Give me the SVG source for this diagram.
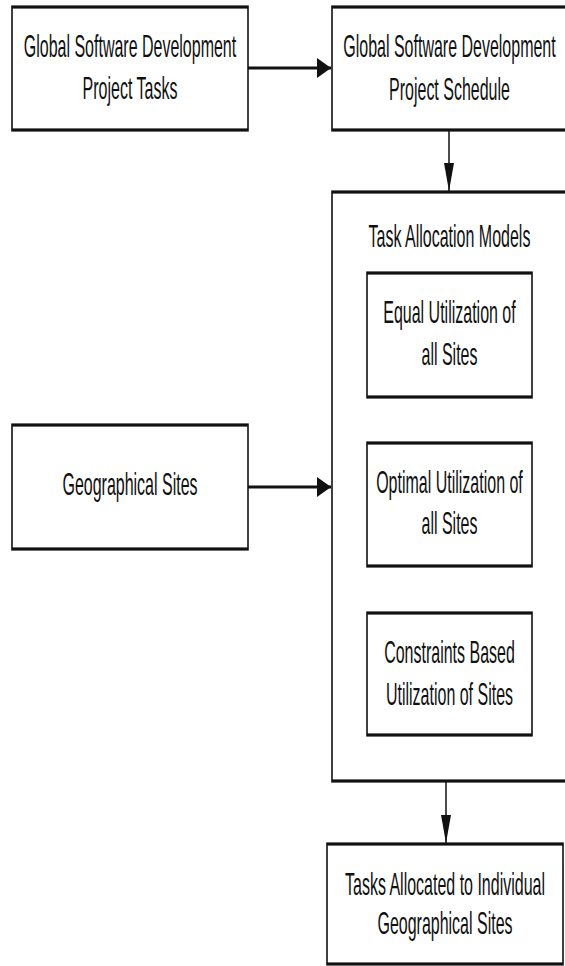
<svg xmlns="http://www.w3.org/2000/svg" width="565" height="966" viewBox="0 0 565 966">
  <style>
    .box { fill: #ffffff; stroke: #111111; stroke-width: 1.6; }
    .lbl { font-family: "Liberation Sans", Arial, sans-serif; font-size: 16px; fill: #111111; text-anchor: middle; }
    .edge { fill: none; stroke: #111111; stroke-width: 1.5; marker-end: url(#arrow); }
  </style>
  <defs>
    <marker id="arrow" markerUnits="userSpaceOnUse" markerWidth="14" markerHeight="10" refX="14" refY="5" orient="auto">
      <path d="M0,0 L14,5 L0,10 Z" fill="#111111"/>
    </marker>
  </defs>
  <rect x="0" y="0" width="565" height="966" fill="#ffffff"/>
  <g transform="scale(1,2)">
    <g id="tasks">
      <rect class="box" x="12" y="3.5" width="236" height="61.5"/>
      <text class="lbl" x="130" y="28.5">Global Software Development</text>
      <text class="lbl" x="130" y="49.5">Project Tasks</text>
    </g>
    <g id="schedule">
      <rect class="box" x="332" y="3.5" width="236" height="61.5"/>
      <text class="lbl" x="449.5" y="28.5">Global Software Development</text>
      <text class="lbl" x="449.5" y="50">Project Schedule</text>
    </g>
    <g id="models">
      <rect class="box" x="332" y="96" width="236" height="294.5"/>
      <text class="lbl" x="449.5" y="123.5">Task Allocation Models</text>
    </g>
    <g id="equal">
      <rect class="box" x="367" y="136.5" width="165" height="62"/>
      <text class="lbl" x="449.5" y="161.5">Equal Utilization of</text>
      <text class="lbl" x="449.5" y="182.5">all Sites</text>
    </g>
    <g id="optimal">
      <rect class="box" x="367" y="221.5" width="165" height="61.5"/>
      <text class="lbl" x="449.5" y="246.5">Optimal Utilization of</text>
      <text class="lbl" x="449.5" y="267">all Sites</text>
    </g>
    <g id="constraints">
      <rect class="box" x="367" y="306.5" width="165" height="61"/>
      <text class="lbl" x="449.5" y="331.5">Constraints Based</text>
      <text class="lbl" x="449.5" y="352.5">Utilization of Sites</text>
    </g>
    <g id="sites">
      <rect class="box" x="12" y="212.5" width="236" height="62"/>
      <text class="lbl" x="130" y="247.5">Geographical Sites</text>
    </g>
    <g id="allocated">
      <rect class="box" x="327" y="422" width="236" height="60"/>
      <text class="lbl" x="445" y="447.5">Tasks Allocated to Individual</text>
      <text class="lbl" x="445" y="467">Geographical Sites</text>
    </g>
    <g id="connectors">
      <path class="edge" d="M248,34 L331,34"/>
      <path class="edge" d="M449,65 L449,95.5"/>
      <path class="edge" d="M248,243.5 L331,243.5"/>
      <path class="edge" d="M446,390.5 L446,421.5"/>
    </g>
  </g>
</svg>
